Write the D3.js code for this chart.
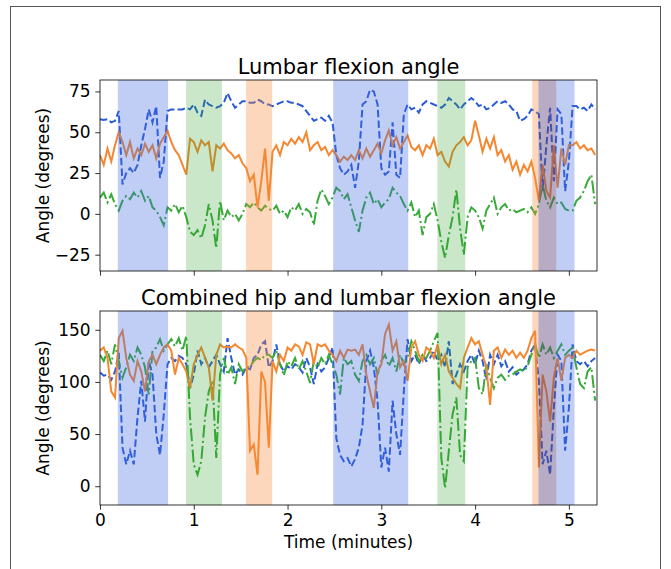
<!DOCTYPE html>
<html lang="en">
	<head>
		<meta charset="utf-8">
		<title>Lumbar and hip flexion angle</title>
		<script src="https://d3js.org/d3.v7.min.js"></script>
		<style type="text/css">
		body { margin: 0; background: #fff; }
		text { font-family: "DejaVu Sans", sans-serif; fill: #000; }
		</style>
	</head>
	<body>
		<script type="text/javascript">

			//Width and height
			var w = 671;
			var h = 569;

			//Sample times (minutes), one every 0.04 min
			var times = d3.range(0, 133).map(function(i) { return i * 0.04; });

			//Lumbar flexion angle
			var lumbarBlue = [58,57.5,58,56,57,63,18,25,28,25,30,42,52,64,56,66,22,32,63,64,64,64,64,65,64,67,62,60,70,67,66,65,66,68,74,69,65,67,69,69,68,68,70,69,67,
				67,66,67,68,69,69,68,68,67,66,63,60,57,58,59,57,60,56,36,28,24,26,30,16,32,67,69,76,75,67,28,24,26,56,24,22,61,67,64,65,62,67,69,
				68,67,66,65,67,71,69,67,64,67,69,71,69,66,67,64,65,67,69,68,69,67,64,63,57,58,60,64,63,61,14,42,65,20,64,61,14,32,66,66,64,65,63,67,64];
			var lumbarOrange = [36,30,40,32,42,50,44,36,44,34,40,36,43,38,42,34,43,47,51,44,39,36,30,24,46,44,38,45,42,44,26,42,40,43,39,37,34,36,31,28,20,24,4,20,40,
				8,38,42,36,44,42,46,43,47,44,50,39,42,44,39,41,36,39,36,32,35,33,36,33,39,34,40,35,39,43,37,45,51,42,47,40,44,48,41,39,42,36,42,
				40,46,36,38,32,29,38,42,44,47,42,45,57,48,38,46,40,47,36,39,32,36,27,32,24,30,26,32,22,8,30,14,10,42,16,40,30,42,42,44,40,42,39,40,36];
			var lumbarGreen = [10,13,7,12,6,2,8,11,9,13,10,14,8,11,4,2,-2,-7,4,2,6,1,5,-2,-11,-13,-10,-15,-7,6,-4,-21,8,-4,2,-2,0,-4,0,6,4,7,4,2,5,
				3,2,5,0,2,-2,4,2,6,0,3,1,-7,8,15,11,6,10,16,14,9,12,4,-4,-11,2,10,13,6,9,4,7,9,16,13,11,6,2,7,-2,2,-13,-2,
				0,6,-4,-17,-27,-13,-2,15,-9,-25,-2,4,2,-2,-9,2,6,10,0,4,6,2,3,1,2,3,1,4,0,6,18,8,4,10,6,7,3,2,2,8,10,14,20,24,6];

			//Combined hip and lumbar flexion angle
			var hipBlue = [109,106,107,102,110,128,37,21,34,21,66,101,62,120,107,50,30,69,117,123,120,125,123,117,94,107,130,117,123,114,120,126,117,110,142,123,107,112,107,114,112,123,126,136,139,
				114,120,136,117,110,115,112,117,114,109,123,114,98,117,110,114,123,133,46,30,24,27,19,26,37,59,120,130,114,82,18,37,14,82,50,30,91,141,120,126,117,126,120,
				123,130,120,126,114,139,98,107,117,110,120,126,117,130,120,102,126,117,126,115,120,110,114,107,110,112,117,130,136,101,21,34,11,75,126,120,34,75,136,120,117,120,115,120,123];
			var hipOrange = [130,133,123,91,85,142,149,123,107,101,120,110,91,120,126,117,126,133,136,130,107,123,117,110,94,117,126,133,123,114,82,126,136,133,134,133,136,133,131,123,34,40,11,110,100,
				37,120,110,126,120,133,130,136,134,126,138,136,117,136,134,136,130,126,120,130,123,131,130,131,126,136,107,91,75,110,117,146,155,130,139,114,120,101,133,139,126,120,133,
				130,123,136,117,126,110,104,98,94,123,133,142,136,139,126,114,78,130,133,123,131,126,130,123,128,123,130,142,149,18,107,91,62,104,123,101,123,126,123,130,126,128,130,131,130];
			var hipGreen = [126,120,130,117,136,120,104,114,126,120,133,126,114,88,130,133,141,130,136,141,134,142,130,144,66,21,11,24,66,91,101,27,107,123,107,114,98,117,110,114,115,120,123,121,126,
				126,123,130,117,106,120,115,123,112,120,110,99,120,114,123,117,126,117,107,88,123,117,120,107,101,120,126,117,123,107,120,126,115,123,110,126,117,123,139,130,120,126,123,
				130,139,147,27,-2,34,69,85,30,24,114,120,123,94,88,117,104,94,104,107,102,106,107,110,112,110,115,126,136,123,136,126,133,123,130,136,126,130,133,114,98,94,110,114,82];

			//Shaded task intervals (minutes)
			var bandStart = [0.19, 0.918, 1.558, 2.487, 3.597, 4.61, 4.675, 4.867];
			var bandEnd   = [0.726, 1.30, 1.836, 3.287, 3.895, 4.675, 4.867, 5.06];
			var bandKind  = ["blue", "green", "orange", "blue", "green", "orange", "purple", "blue"];

			var yTicksTop = [-25, 0, 25, 50, 75];
			var yTicksBottom = [0, 50, 100, 150];
			var xTicks = [0, 1, 2, 3, 4, 5];

			var bandColor = {
				blue: "rgba(65,105,225,0.33)",
				green: "rgba(44,160,44,0.25)",
				orange: "rgba(245,140,60,0.35)",
				purple: "rgba(97,71,124,0.45)"
			};

			//Create SVG element
			var svg = d3.select("body")
						.append("svg")
						.attr("width", w)
						.attr("height", h);

			svg.append("rect").attr("width", w).attr("height", h).attr("fill", "#fff");

			//figure border
			svg.append("rect")
				.attr("x", 10.5).attr("y", 6.5)
				.attr("width", 650).attr("height", 620)
				.attr("fill", "none")
				.attr("stroke", "#555")
				.attr("stroke-width", 1);

			//Shared x scale
			var x = d3.scaleLinear().domain([0, 5.3]).range([100, 597]);

			//matplotlib style minus sign
			var fmt = function(d) { return d < 0 ? "\u2212" + Math.abs(d) : String(d); };

			function drawPanel(opts) {
				var y = d3.scaleLinear().domain(opts.domain).range([opts.bottom, opts.top]);
				var g = svg.append("g");

				var clipId = "clip" + opts.top;
				g.append("clipPath").attr("id", clipId)
					.append("rect")
					.attr("x", 100).attr("y", opts.top)
					.attr("width", 497).attr("height", opts.bottom - opts.top);

				var plot = g.append("g").attr("clip-path", "url(#" + clipId + ")");

				var line = d3.line()
					.x(function(d, i) { return x(times[i]); })
					.y(function(d) { return y(d); });

				//series: blue dashed, green dash-dot, orange solid
				plot.append("path")
					.attr("d", line(opts.blue))
					.attr("fill", "none")
					.attr("stroke", "#2a5bd7")
					.attr("stroke-width", 2)
					.attr("stroke-dasharray", "7.4,3.2");
				plot.append("path")
					.attr("d", line(opts.green))
					.attr("fill", "none")
					.attr("stroke", "#38aa38")
					.attr("stroke-width", 2)
					.attr("stroke-dasharray", "12.8,3.2,2,3.2");
				plot.append("path")
					.attr("d", line(opts.orange))
					.attr("fill", "none")
					.attr("stroke", "#f5872f")
					.attr("stroke-width", 2);

				//shaded bands on top
				plot.selectAll("rect.band")
					.data(bandStart)
					.enter()
					.append("rect")
					.attr("class", "band")
					.attr("x", function(d) { return x(d); })
					.attr("y", opts.top)
					.attr("width", function(d, i) { return x(bandEnd[i]) - x(d); })
					.attr("height", opts.bottom - opts.top)
					.attr("fill", function(d, i) { return bandColor[bandKind[i]]; });

				//axes
				var yAxis = d3.axisLeft(y).tickValues(opts.yTicks).tickFormat(fmt).tickSize(4.7).tickPadding(4.7);
				g.append("g")
					.attr("transform", "translate(100,0)")
					.call(yAxis)
					.call(function(a) {
						a.select(".domain").remove();
						a.selectAll("line").attr("stroke", "#000").attr("stroke-width", 0.8);
						a.selectAll("text").style("font-size", "17px");
					});

				var xAxis = d3.axisBottom(x).tickValues(xTicks).tickFormat(d3.format("d")).tickSize(4.7).tickPadding(4.7);
				g.append("g")
					.attr("transform", "translate(0," + opts.bottom + ")")
					.call(xAxis)
					.call(function(a) {
						a.select(".domain").remove();
						a.selectAll("line").attr("stroke", "#000").attr("stroke-width", 0.8);
						a.selectAll("text").style("font-size", "17px");
						if (!opts.xLabels) a.selectAll("text").remove();
					});

				//frame
				g.append("rect")
					.attr("x", 100).attr("y", opts.top)
					.attr("width", 497).attr("height", opts.bottom - opts.top)
					.attr("fill", "none")
					.attr("stroke", "#000")
					.attr("stroke-width", 0.8);

				//title
				g.append("text")
					.attr("x", 348.5)
					.attr("y", opts.top - 6)
					.attr("text-anchor", "middle")
					.style("font-size", "21px")
					.text(opts.title);

				//y label
				g.append("text")
					.attr("transform", "translate(49," + ((opts.top + opts.bottom) / 2) + ") rotate(-90)")
					.attr("text-anchor", "middle")
					.style("font-size", "17px")
					.text("Angle (degrees)");
			}

			drawPanel({
				top: 80, bottom: 271, domain: [-35, 82],
				blue: lumbarBlue, orange: lumbarOrange, green: lumbarGreen,
				yTicks: yTicksTop, xLabels: false,
				title: "Lumbar flexion angle"
			});

			drawPanel({
				top: 311, bottom: 505, domain: [-18, 168],
				blue: hipBlue, orange: hipOrange, green: hipGreen,
				yTicks: yTicksBottom, xLabels: true,
				title: "Combined hip and lumbar flexion angle"
			});

			//x label
			svg.append("text")
				.attr("x", 348.5)
				.attr("y", 548)
				.attr("text-anchor", "middle")
				.style("font-size", "17px")
				.text("Time (minutes)");

		</script>
	</body>
</html>
